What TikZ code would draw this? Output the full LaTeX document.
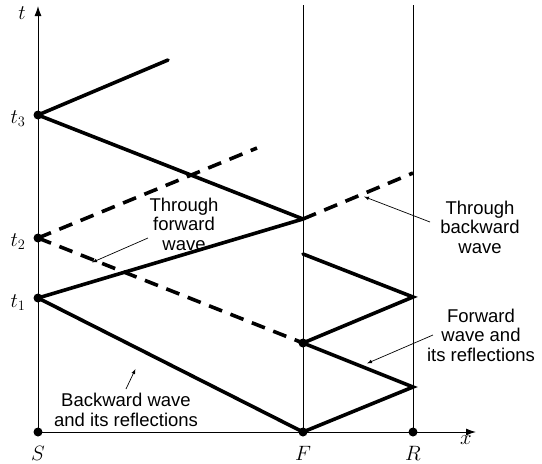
\documentclass[tikz,border=0pt]{standalone}
\usepackage{amsmath}
\usepackage{fontspec}
\setmainfont{Liberation Sans}
\usetikzlibrary{arrows}
\usetikzlibrary{arrows.meta}

\tikzset{
  wave/.style={line width=3.6pt,line cap=round},
  thruwave/.style={line width=3.6pt,dash pattern=on 14pt off 9pt},
  guide/.style={line width=1pt},
  axisline/.style={line width=1pt,-{Latex[length=10pt,width=7pt]}},
  pointer/.style={-latex,line width=0.7pt,shorten >=-1pt},
  note/.style={align=center,font=\fontsize{18.5}{19.5}\selectfont},
  axislabel/.style={font=\fontsize{20}{22}\selectfont},
}

\begin{document}
\begin{tikzpicture}[x=1pt,y=-1pt]
\useasboundingbox (0,0) rectangle (542,464);
% points on the lines
\coordinate (S) at (38,432);
\coordinate (F0) at (303,432);
\coordinate (R0) at (413,432);
\coordinate (t1) at (38,298);
\coordinate (t2) at (38,238);
\coordinate (t3) at (38,115);
\coordinate (Fa) at (303,343);
\coordinate (Fb) at (303,254);
\coordinate (Fc) at (303,219);
\coordinate (Ra) at (413,387);
\coordinate (Rb) at (413,297);
\coordinate (Rc) at (413,173);
\coordinate (tend) at (38,6);
\coordinate (xend) at (476,432);
\coordinate (Ftop) at (303,5);
\coordinate (Rtop) at (413,5);
\coordinate (up3) at (168,60);
\coordinate (up2) at (257,148);
% axes and fault lines
\draw[axisline] (S) -- (tend);
\draw[axisline] (S) -- (xend);
\draw[guide] (F0) -- (Ftop);
\draw[guide] (R0) -- (Rtop);
% waves
\draw[wave] (t1) -- (F0) -- (Ra) -- (Fa) -- (Rb) -- (Fb);
\draw[wave] (t1) -- (Fc);
\draw[wave] (t3) -- (Fc);
\draw[wave] (t3) -- (up3);
\draw[thruwave] (t2) -- (Fa);
\draw[thruwave] (t2) -- (up2);
\draw[thruwave] (Fc) -- (Rc);
\foreach \p in {S,F0,R0,t1,t2,t3,Fa}{
\fill (\p) circle (4.5pt);
}
% labels
\node[axislabel] (tlab) at (22,13) {$t$};
\node[axislabel] (xlab) at (466,440) {$x$};
\node[axislabel] (t3lab) at (18,119) {$t_3$};
\node[axislabel] (t2lab) at (18,242) {$t_2$};
\node[axislabel] (t1lab) at (18,303) {$t_1$};
\node[axislabel] (Slab) at (38,453) {$S$};
\node[axislabel] (Flab) at (303,453) {$F$};
\node[axislabel] (Rlab) at (413,453) {$R$};
% notes
\node[note] (thrufwd) at (184,224) {Through\\forward\\wave};
\node[note] (thrubwd) at (480,227) {Through\\backward\\wave};
\node[note] (fwdrefl) at (481,335) {Forward\\wave and\\its reflections};
\node[note] (bwdrefl) at (126,410) {Backward wave\\and its reflections};
\coordinate (a1s) at (148,238);
\coordinate (a1e) at (93,262);
\coordinate (a2s) at (430,222);
\coordinate (a2e) at (365,197);
\coordinate (a3s) at (433,335);
\coordinate (a3e) at (368,363);
\coordinate (a4s) at (126,389);
\coordinate (a4e) at (135,370);
\draw[pointer] (a1s) -- (a1e);
\draw[pointer] (a2s) -- (a2e);
\draw[pointer] (a3s) -- (a3e);
\draw[pointer] (a4s) -- (a4e);
\end{tikzpicture}
\end{document}
